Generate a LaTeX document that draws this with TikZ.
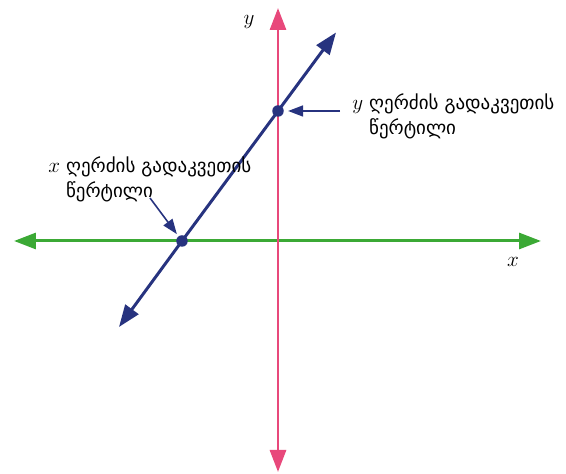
\documentclass[tikz,border=0pt]{standalone}
\usepackage{fontspec}
\usepackage{tikz}
\usetikzlibrary{arrows.meta, positioning, calc}
\newfontfamily\geofont{DejaVu Sans}
\definecolor{axgreen}{HTML}{3BA935}
\definecolor{axpink}{HTML}{E8487B}
\definecolor{lnavy}{HTML}{27337F}

\begin{document}
\begin{tikzpicture}[
    axis/.style={line width=1.7pt, -{Triangle[length=0.44cm,width=0.32cm]}},
    pointer/.style={lnavy, line width=0.9pt, -{Triangle[length=0.3cm,width=0.22cm]}},
    dot/.style={circle, fill=lnavy, inner sep=0pt, minimum size=0.23cm},
    lbl/.style={font=\geofont\fontsize{10.8}{14.2}\selectfont, inner sep=0pt}
]
    \useasboundingbox (-5.56,-4.66) rectangle (5.76,4.82);

    % axis ends
    \coordinate (xl) at (-5.28,0);
    \coordinate (xr) at (5.26,0);
    \coordinate (yt) at (0,4.66);
    \coordinate (yb) at (0,-4.62);
    \coordinate (la) at (-3.18,-1.72);
    \coordinate (lb) at (1.16,4.17);

    \draw[axis, axgreen] (0,0) -- (xl);
    \draw[axis, axgreen] (0,0) -- (xr);
    \draw[axis, axpink] (0,0) -- (yt);
    \draw[axis, axpink] (0,0) -- (yb);
    \draw[axis, lnavy] (-1.92,0) -- (la);
    \draw[axis, lnavy] (-1.92,0) -- (lb);

    \node[font=\large] (xname) at (4.7,-0.41) {$x$};
    \node[font=\large] (yname) at (-0.58,4.38) {$y$};

    \node[dot] (xcut) at (-1.92,0) {};
    \node[dot] (ycut) at (0,2.6) {};

    \node[lbl, anchor=north west] (ytext) at (1.48,2.98)
        {{\large$y$} \begin{tabular}[t]{@{}l@{}}ღერძის გადაკვეთის\\წერტილი\end{tabular}};
    \node[lbl, anchor=north west] (xtext) at (-4.6,1.72)
        {{\large$x$} \begin{tabular}[t]{@{}l@{}}ღერძის გადაკვეთის\\წერტილი\end{tabular}};

    \coordinate (yfrom) at (1.24,2.6);
    \coordinate (xfrom) at (-2.56,0.86);
    \draw[pointer, shorten >=0.08cm] (yfrom) -- (ycut);
    \draw[pointer, shorten >=0.05cm] (xfrom) -- (xcut);
\end{tikzpicture}
\end{document}
